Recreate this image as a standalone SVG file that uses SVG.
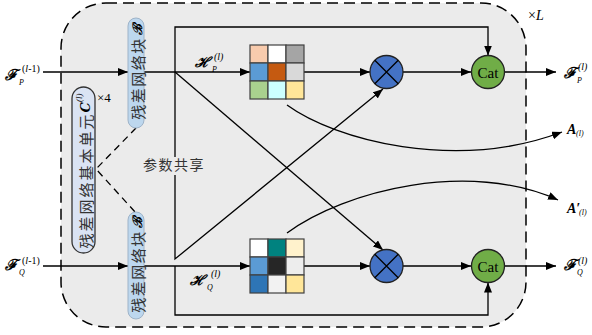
<svg xmlns="http://www.w3.org/2000/svg" width="592" height="335" viewBox="0 0 592 335">
<defs>
<style>
.ln{stroke:#000;stroke-width:1.3;fill:none}
.arr{marker-end:url(#ah)}
.cjk{font-family:"Noto Sans CJK SC","Noto Sans",sans-serif;fill:#333}
.m{font-family:"Liberation Serif","DejaVu Serif",serif;fill:#000}
.it{font-style:italic}
.scr{font-family:"DejaVu Serif","Liberation Serif",serif;font-style:italic;font-weight:bold;fill:#000}
.pill{fill:#bdd7ee;stroke:#9eb3c8;stroke-width:1}
.cell{stroke:#404040;stroke-width:1.2}
.mul{fill:#4472c4;stroke:#222;stroke-width:1.3}
.cat{fill:#70ad47;stroke:#222;stroke-width:1.3}
</style>
<marker id="ah" markerWidth="10" markerHeight="8" refX="10" refY="4" orient="auto" markerUnits="userSpaceOnUse">
<path d="M0,0 L10,4 L0,8 Z" fill="#000"/>
</marker>
</defs>

<g id="frame">
<rect x="61" y="3" width="465" height="324" rx="45" ry="45" fill="#ebebeb" stroke="#000" stroke-width="1.5" stroke-dasharray="11,6"/>
<text class="m" x="528" y="20" font-size="14">×<tspan class="it">L</tspan></text>
</g>

<g id="connectors">
<line class="ln arr" x1="43" y1="72" x2="128" y2="72"/>
<line class="ln arr" x1="43" y1="266" x2="128" y2="266"/>
<line class="ln arr" x1="144" y1="72" x2="250" y2="72"/>
<polyline class="ln arr" points="175,72 175,27 488,27 488,55.5"/>
<line class="ln" x1="175" y1="72" x2="175" y2="157"/>
<polyline class="ln arr" points="175,175 175,259 383,89"/>
<line class="ln arr" x1="175" y1="72" x2="383" y2="250"/>
<line class="ln arr" x1="304" y1="72" x2="370" y2="72"/>
<line class="ln arr" x1="403" y1="72" x2="471" y2="72"/>
<line class="ln arr" x1="504.5" y1="72" x2="556" y2="72"/>
<line class="ln arr" x1="144" y1="266" x2="250" y2="266"/>
<polyline class="ln arr" points="175,266 175,315 488,315 488,282.5"/>
<line class="ln arr" x1="304" y1="266" x2="370" y2="266"/>
<line class="ln arr" x1="403" y1="266" x2="471" y2="266"/>
<line class="ln arr" x1="504.5" y1="266" x2="556" y2="266"/>
<path class="ln arr" d="M287,105 C335,140 455,172 562,132"/>
<path class="ln arr" d="M287,233 C345,190 470,160 558,200"/>
<polyline class="ln" stroke-dasharray="7,5" points="136,128 96,169 136,213"/>
</g>

<g id="unitC">
<rect x="72" y="87" width="23" height="166" rx="11.5" fill="#dae3f3" stroke="#333" stroke-width="1.3"/>
<text transform="translate(84.5,171) rotate(-90)" text-anchor="middle" dominant-baseline="central" font-size="15"><tspan class="cjk" letter-spacing="2">残差网络基本单元</tspan><tspan class="scr" font-size="13">C</tspan><tspan class="m it" font-size="9" dy="-6">(l)</tspan></text>
<text class="m" x="97" y="102" font-size="13">×4</text>
</g>

<g id="blockB_top">
<rect class="pill" x="128" y="18" width="16" height="110" rx="8"/>
<text transform="translate(136.5,72) rotate(-90)" text-anchor="middle" dominant-baseline="central" font-size="15"><tspan class="cjk" letter-spacing="1.5">残差网络块</tspan><tspan class="scr" dx="2" font-size="13">ℬ</tspan></text>
</g>

<g id="blockB_bot">
<rect class="pill" x="128" y="212" width="16" height="107" rx="8"/>
<text transform="translate(136.5,265) rotate(-90)" text-anchor="middle" dominant-baseline="central" font-size="15"><tspan class="cjk" letter-spacing="1.5">残差网络块</tspan><tspan class="scr" dx="2" font-size="13">ℬ</tspan></text>
</g>

<g id="share">
<text class="cjk" x="143" y="170" font-size="14" fill="#444" letter-spacing="1.5">参数共享</text>
</g>

<g id="matP">
<rect class="cell" x="250" y="45" width="18" height="18" fill="#f8cbad"/>
<rect class="cell" x="268" y="45" width="18" height="18" fill="#ffffff"/>
<rect class="cell" x="286" y="45" width="18" height="18" fill="#a5a5a5"/>
<rect class="cell" x="250" y="63" width="18" height="18" fill="#5b9bd5"/>
<rect class="cell" x="268" y="63" width="18" height="18" fill="#c55a11"/>
<rect class="cell" x="286" y="63" width="18" height="18" fill="#d9d9d9"/>
<rect class="cell" x="250" y="81" width="18" height="18" fill="#a9d18e"/>
<rect class="cell" x="268" y="81" width="18" height="18" fill="#ccffff"/>
<rect class="cell" x="286" y="81" width="18" height="18" fill="#ffe699"/>
</g>

<g id="matQ">
<rect class="cell" x="250" y="239" width="18" height="18" fill="#ffffff"/>
<rect class="cell" x="268" y="239" width="18" height="18" fill="#00827f"/>
<rect class="cell" x="286" y="239" width="18" height="18" fill="#fff2cc"/>
<rect class="cell" x="250" y="257" width="18" height="18" fill="#5b9bd5"/>
<rect class="cell" x="268" y="257" width="18" height="18" fill="#262626"/>
<rect class="cell" x="286" y="257" width="18" height="18" fill="#ededed"/>
<rect class="cell" x="250" y="275" width="18" height="18" fill="#2e75b6"/>
<rect class="cell" x="268" y="275" width="18" height="18" fill="#f2f2f2"/>
<rect class="cell" x="286" y="275" width="18" height="18" fill="#ffe699"/>
</g>

<g id="mulP">
<circle class="mul" cx="386.5" cy="72" r="16.5"/>
<path class="ln" d="M374.8,60.3 L398.2,83.7 M398.2,60.3 L374.8,83.7"/>
</g>
<g id="mulQ">
<circle class="mul" cx="386.5" cy="266" r="16.5"/>
<path class="ln" d="M374.8,254.3 L398.2,277.7 M398.2,254.3 L374.8,277.7"/>
</g>

<g id="catP">
<circle class="cat" cx="488" cy="72" r="16.5"/>
<text class="m" x="488" y="77.5" font-size="15" text-anchor="middle">Cat</text>
</g>
<g id="catQ">
<circle class="cat" cx="488" cy="266" r="16.5"/>
<text class="m" x="488" y="271.5" font-size="15" text-anchor="middle">Cat</text>
</g>

<g id="labels">
<text class="scr" x="5" y="80" font-size="15">ℱ</text>
<text class="m it" x="19" y="85" font-size="8">P</text>
<text class="m" x="22" y="72" font-size="10">(<tspan class="it">l</tspan>-1)</text>

<text class="scr" x="5" y="270" font-size="15">ℱ</text>
<text class="m it" x="19" y="275" font-size="8">Q</text>
<text class="m" x="22" y="264" font-size="10">(<tspan class="it">l</tspan>-1)</text>

<text class="scr" x="195" y="67" font-size="14">ℋ</text>
<text class="m it" x="212" y="72" font-size="8">P</text>
<text class="m it" x="214" y="60" font-size="10">(l)</text>

<text class="scr" x="190" y="285" font-size="14">ℋ</text>
<text class="m it" x="207" y="290" font-size="8">Q</text>
<text class="m it" x="211" y="277" font-size="10">(l)</text>

<text class="scr" x="564" y="78" font-size="15">ℱ</text>
<text class="m it" x="577" y="83" font-size="8">P</text>
<text class="m it" x="578" y="70" font-size="10">(l)</text>

<text class="scr" x="564" y="270" font-size="15">ℱ</text>
<text class="m it" x="577" y="275" font-size="8">Q</text>
<text class="m it" x="578" y="264" font-size="10">(l)</text>

<text class="m it" x="567" y="134" font-size="14" font-weight="bold">A</text>
<text class="m it" x="576" y="136" font-size="8">(l)</text>
<text class="m it" x="567" y="213" font-size="14" font-weight="bold">A′</text>
<text class="m it" x="579" y="215" font-size="8">(l)</text>
</g>
</svg>
